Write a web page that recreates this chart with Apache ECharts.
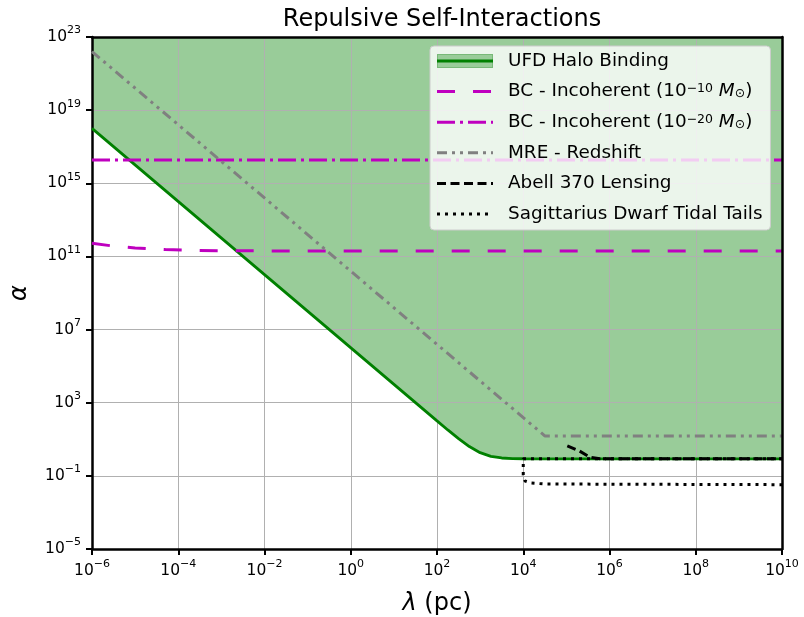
<!DOCTYPE html>
<html>
<head>
<meta charset="utf-8">
<script src="https://cdn.jsdelivr.net/npm/echarts@6/dist/echarts.min.js"></script>
<style>
html, body { margin: 0; padding: 0; background: #fff; }
#main { width: 804px; height: 617px; }
</style>
</head>
<body>
<div id="main"></div>
<script>
// values (lambda in pc, alpha dimensionless)
var ufdLambda = [1e-6, 1e2, 178, 316, 562, 1e3, 1778, 3162, 5623, 1e4, 1e10];
var ufdAlpha = [1e18, 101, 32.4, 10.9, 4.0, 1.85, 1.17, 0.95, 0.88, 0.86, 0.85];

var bc10Lambda = [1e-6, 2.6e-6, 1e-5, 5e-5, 3e-4, 1e-2, 1e10];
var bc10Alpha = [5.2e11, 3.9e11, 2.9e11, 2.4e11, 2.1e11, 2e11, 2e11];

var bc20Lambda = [1e-6, 1e10];
var bc20Alpha = [1.9e16, 1.9e16];

var mreLambda = [1e-6, 3.2e4, 1e10];
var mreAlpha = [1.6e22, 15, 15];

var abellLambda = [1.05e5, 2e5, 3.5e5, 6e5, 1e10];
var abellAlpha = [4.4, 2.3, 1.05, 0.87, 0.85];

var sagLambda = [1e10, 1e4, 1e4, 1.1e4, 1.5e4, 3e4, 1e6, 1e10];
var sagAlpha = [0.85, 0.85, 0.11, 0.052, 0.041, 0.036, 0.035, 0.033];

// axis ranges (decades)
var xExp = [-6, 10];
var yExp = [-5, 23];

var FONT = 'DejaVu Sans';
var MAG = '#bf00bf';

function toLog(xs, ys) {
    return xs.map(function (x, i) { return [Math.log10(x), Math.log10(ys[i])]; });
}

function powLabel(v) {
    var e = Math.round(v);
    return '{b|10}{s|' + (e < 0 ? '\u2212' + (-e) : e) + '}';
}

var tickRich = {
    b: { fontSize: 15.5, fontFamily: FONT, color: '#000', lineHeight: 24 },
    s: { fontSize: 11, fontFamily: FONT, color: '#000', verticalAlign: 'top', lineHeight: 12 }
};

function svgIcon(inner) {
    return 'image://data:image/svg+xml;charset=utf-8,' + encodeURIComponent(
        "<svg xmlns='http://www.w3.org/2000/svg' width='66' height='14'>" + inner + "</svg>");
}
function lineIcon(color, dash, width) {
    return svgIcon("<line x1='0' y1='7' x2='56' y2='7' stroke='" + color + "' stroke-width='" + width +
        "'" + (dash ? " stroke-dasharray='" + dash + "'" : '') + "/>");
}

var ufdIcon = svgIcon(
    "<rect x='0.5' y='0.5' width='55' height='13' fill='rgb(153,204,153)' stroke='rgb(120,185,120)'/>" +
    "<line x1='0' y1='7' x2='56' y2='7' stroke='#008000' stroke-width='3'/>");

var legendNames = {
    'UFD Halo Binding': '{n|UFD Halo Binding}',
    'BC10': '{n|BC - Incoherent (10}{s|\u221210}{n| }{i|M}{sub|\u2299}{n|)}',
    'BC20': '{n|BC - Incoherent (10}{s|\u221220}{n| }{i|M}{sub|\u2299}{n|)}',
    'MRE - Redshift': '{n|MRE - Redshift}',
    'Abell 370 Lensing': '{n|Abell 370 Lensing}',
    'Sagittarius Dwarf Tidal Tails': '{n|Sagittarius Dwarf Tidal Tails}'
};

var chart = echarts.init(document.getElementById('main'));

var baseX = {
    type: 'value', min: xExp[0], max: xExp[1], interval: 2
};
var baseY = {
    type: 'value', min: yExp[0], max: yExp[1], interval: 4
};

chart.setOption({
    animation: false,
    backgroundColor: '#fff',
    title: {
        text: 'Repulsive Self-Interactions',
        left: 437, top: 3, textAlign: 'center',
        textStyle: { fontFamily: FONT, fontSize: 24, fontWeight: 'normal', color: '#000' }
    },
    grid: { left: 92, right: 22, top: 37, bottom: 68, outerBoundsMode: 'none' },
    legend: {
        orient: 'vertical',
        left: 430, top: 46,
        padding: [6, 8, 7, 7],
        itemGap: 12.6,
        itemWidth: 66, itemHeight: 14,
        backgroundColor: 'rgba(255,255,255,0.8)',
        borderColor: '#cccccc', borderWidth: 1, borderRadius: 4,
        z: 10,
        data: [
            { name: 'UFD Halo Binding', icon: ufdIcon },
            { name: 'BC10', icon: lineIcon(MAG, '18,18', 3) },
            { name: 'BC20', icon: lineIcon(MAG, '18,5,3,5', 3) },
            { name: 'MRE - Redshift', icon: lineIcon('#808080', '10,5,3,5,3,5', 3) },
            { name: 'Abell 370 Lensing', icon: lineIcon('#000', '9,4.5', 3) },
            { name: 'Sagittarius Dwarf Tidal Tails', icon: lineIcon('#000', '3,5', 3) }
        ],
        formatter: function (name) { return legendNames[name]; },
        textStyle: {
            fontFamily: FONT, fontSize: 18.4, color: '#000',
            rich: {
                n: { fontFamily: FONT, fontSize: 18.4, color: '#000' },
                s: { fontFamily: FONT, fontSize: 12.5, color: '#000', verticalAlign: 'top' },
                i: { fontFamily: FONT, fontSize: 18.4, fontStyle: 'italic', color: '#000' },
                sub: { fontFamily: FONT, fontSize: 12.5, color: '#000', verticalAlign: 'bottom' }
            }
        }
    },
    xAxis: [
        Object.assign({}, baseX, {
            z: 2,
            name: '{i|\u03bb}{n| (pc)}',
            nameLocation: 'middle', nameGap: 43,
            nameTextStyle: {
                rich: {
                    i: { fontFamily: FONT, fontSize: 24, fontStyle: 'italic', color: '#000' },
                    n: { fontFamily: FONT, fontSize: 24, color: '#000' }
                }
            },
            axisLine: { onZero: false, lineStyle: { color: '#000', width: 2.5 } },
            axisTick: { length: 6, lineStyle: { color: '#000', width: 2 } },
            axisLabel: { margin: 10, formatter: powLabel, rich: tickRich },
            splitLine: { show: true, lineStyle: { color: '#b0b0b0', width: 1 } }
        }),
        Object.assign({}, baseX, {
            position: 'top', z: 5,
            axisLine: { show: true, onZero: false, lineStyle: { color: '#000', width: 2.5 } },
            axisTick: { show: false }, axisLabel: { show: false }, splitLine: { show: false }
        })
    ],
    yAxis: [
        Object.assign({}, baseY, {
            z: 2,
            name: '\u03b1',
            nameLocation: 'middle', nameGap: 60,
            nameTextStyle: { fontFamily: FONT, fontSize: 24, fontStyle: 'italic', color: '#000' },
            axisLine: { show: true, onZero: false, lineStyle: { color: '#000', width: 2.5 } },
            axisTick: { show: true, length: 6, lineStyle: { color: '#000', width: 2 } },
            axisLabel: { margin: 11, formatter: powLabel, rich: tickRich },
            splitLine: { show: true, lineStyle: { color: '#b0b0b0', width: 1 } }
        }),
        Object.assign({}, baseY, {
            position: 'right', z: 5,
            axisLine: { show: true, onZero: false, lineStyle: { color: '#000', width: 2.5 } },
            axisTick: { show: false }, axisLabel: { show: false }, splitLine: { show: false }
        })
    ],
    series: [
        {
            name: 'UFD fill', type: 'line', z: 1, silent: true,
            data: toLog(ufdLambda, ufdAlpha),
            showSymbol: false, symbol: 'none',
            lineStyle: { width: 0, opacity: 0 },
            areaStyle: { color: 'rgba(0,128,0,0.4)', origin: 'end', opacity: 1 }
        },
        {
            name: 'UFD Halo Binding', type: 'line', z: 3,
            data: toLog(ufdLambda, ufdAlpha),
            symbol: 'none', itemStyle: { color: '#008000' },
            lineStyle: { color: '#008000', width: 2.8 }
        },
        {
            name: 'BC10', type: 'line', z: 3,
            data: toLog(bc10Lambda, bc10Alpha),
            symbol: 'none', itemStyle: { color: MAG },
            lineStyle: { color: MAG, width: 3, type: [18, 18] }
        },
        {
            name: 'BC20', type: 'line', z: 3,
            data: toLog(bc20Lambda, bc20Alpha),
            symbol: 'none', itemStyle: { color: MAG },
            lineStyle: { color: MAG, width: 3, type: [18, 5, 3, 5] }
        },
        {
            name: 'MRE - Redshift', type: 'line', z: 3,
            data: toLog(mreLambda, mreAlpha),
            symbol: 'none', itemStyle: { color: '#808080' },
            lineStyle: { color: '#808080', width: 3, type: [10, 5, 3, 5, 3, 5] }
        },
        {
            name: 'Abell 370 Lensing', type: 'line', z: 3,
            data: toLog(abellLambda, abellAlpha),
            symbol: 'none', itemStyle: { color: '#000' },
            lineStyle: { color: '#000', width: 3, type: [9, 4.5] }
        },
        {
            name: 'Sagittarius Dwarf Tidal Tails', type: 'line', z: 3,
            data: toLog(sagLambda, sagAlpha),
            symbol: 'none', itemStyle: { color: '#000' },
            lineStyle: { color: '#000', width: 3, type: [3, 5] }
        }
    ]
});
</script>
</body>
</html>
